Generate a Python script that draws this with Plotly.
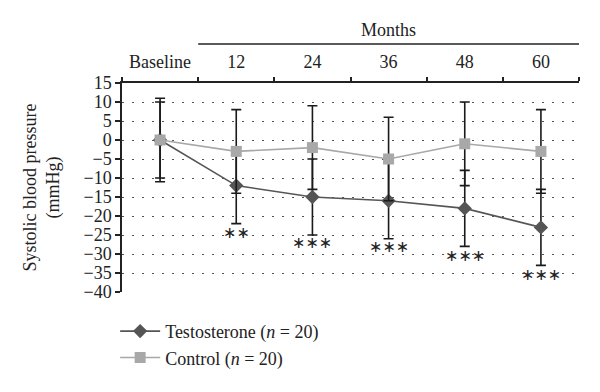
import numpy as np
import plotly.graph_objects as go

categories = ["Baseline", "12", "24", "36", "48", "60"]
testosterone = [0, -12, -15, -16, -18, -23]
testosterone_err = [10, 10, 10, 10, 10, 10]
control = [0, -3, -2, -5, -1, -3]
control_err = [11, 11, 11, 11, 11, 11]
sig_labels = ["", "∗∗", "∗∗∗", "∗∗∗", "∗∗∗", "∗∗∗"]
sig_y = [None, -24.3, -26.9, -28.1, -30.4, -35.3]
y_ticks = list(range(-40, 16, 5))

FONT = "Liberation Serif"
y_range = [-40, 15]

fig = go.Figure()
fig.add_trace(go.Scatter(
    x=categories, y=testosterone, name="Testosterone (<i>n</i> = 20)",
    mode="lines+markers",
    line=dict(color="#555555", width=1.6),
    marker=dict(symbol="diamond", size=11, color="#555555"),
    error_y=dict(type="data", array=testosterone_err, color="#1a1a1a", thickness=1.6, width=5),
))
fig.add_trace(go.Scatter(
    x=categories, y=control, name="Control (<i>n</i> = 20)",
    mode="lines+markers",
    line=dict(color="#a8a8a8", width=1.6),
    marker=dict(symbol="square", size=11, color="#a8a8a8"),
    error_y=dict(type="data", array=control_err, color="#1a1a1a", thickness=1.6, width=5),
))

for i, (lab, yy) in enumerate(zip(sig_labels, sig_y)):
    if lab:
        fig.add_annotation(x=i, y=yy, text=lab, showarrow=False, xref="x", yref="y",
                           xanchor="center", yanchor="middle",
                           font=dict(family="DejaVu Sans", size=16, color="#222"))

n = len(categories)
fig.add_shape(type="line", xref="x", yref="paper", x0=0.5, x1=n - 0.5, y0=1.187, y1=1.187,
              line=dict(color="#222", width=1.5))
fig.add_annotation(x=(0.5 + n - 0.5) / 2, y=1.254, xref="x", yref="paper", text="Months",
                   showarrow=False, xanchor="center", yanchor="middle",
                   font=dict(family=FONT, size=18, color="#222"))

zero_pos = (0 - y_range[0]) / (y_range[1] - y_range[0])

fig.update_layout(
    width=592, height=384,
    margin=dict(l=114, r=21, t=75, b=100),
    paper_bgcolor="white", plot_bgcolor="white",
    font=dict(family=FONT, size=18, color="#222"),
    showlegend=True,
    legend=dict(x=-0.015, y=-0.10, xanchor="left", yanchor="top",
                font=dict(family=FONT, size=18, color="#222"),
                itemwidth=40, tracegroupgap=0, bgcolor="rgba(0,0,0,0)"),
    xaxis=dict(type="category", categoryarray=categories, range=[-0.5, n - 0.5],
               side="top", showline=True, linecolor="#222", linewidth=1.5,
               ticks="outside", tickson="boundaries", ticklen=4, tickcolor="#222", tickwidth=1.5,
               showgrid=False, zeroline=False, ticklabelstandoff=6,
               tickfont=dict(family=FONT, size=18, color="#222")),
    xaxis2=dict(overlaying="x", anchor="free", position=zero_pos, range=[-0.5, n - 0.5],
                showline=True, linecolor="#222", linewidth=1.5,
                tickvals=list(np.arange(n + 1) - 0.5), ticks="outside", ticklen=4,
                tickcolor="#222", tickwidth=1.5, showticklabels=False, showgrid=False,
                zeroline=False, side="bottom"),
    yaxis=dict(range=y_range, tickvals=y_ticks, showline=True, linecolor="#222", linewidth=1.5,
               ticks="outside", ticklen=5, tickcolor="#222", tickwidth=1.5,
               showgrid=True, gridcolor="#555555", gridwidth=1.2, griddash="2px,8px",
               zeroline=False, tickfont=dict(family=FONT, size=18, color="#222"),
               title=dict(text="Systolic blood pressure<br>(mmHg)",
                          font=dict(family=FONT, size=18, color="#222"), standoff=19)),
)

fig.write_html("out.html")
